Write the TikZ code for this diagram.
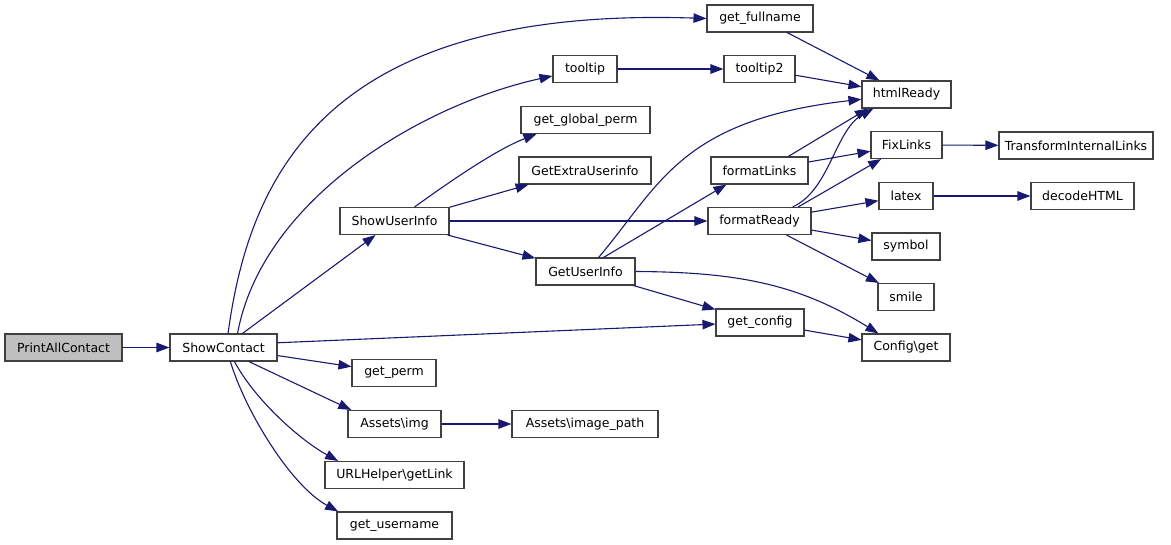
\documentclass[tikz,border=0pt]{standalone}
\usepackage{fontspec}
\setmainfont{DejaVu Sans}
\usetikzlibrary{arrows.meta}
\definecolor{edgec}{HTML}{191970}
\definecolor{bordc}{HTML}{404040}
\definecolor{startc}{HTML}{BFBFBF}
\begin{document}
\begin{tikzpicture}[x=1pt,y=-1pt,
  box/.style={draw=bordc, line width=1.1pt, fill=white, minimum height=27pt, inner sep=0pt,
    font=\fontsize{12.5}{15}\selectfont},
  edge/.style={draw=edgec, line width=1.1pt, -{Triangle[length=13pt,width=9.5pt]}}]
\useasboundingbox (0,0) rectangle (1171,544);
% nodes
\node[box, fill=startc, minimum width=117pt] (pac) at (63.5,347.5) {PrintAllContact};
\node[box, minimum width=107pt] (sc) at (223.5,347.5) {ShowContact};
\node[box, minimum width=109pt] (sui) at (394.5,221) {ShowUserInfo};
\node[box, minimum width=129pt] (ggp) at (585.5,120) {get\_global\_perm};
\node[box, minimum width=64pt] (tt) at (585,69) {tooltip};
\node[box, minimum width=132pt] (geu) at (585,170.5) {GetExtraUserinfo};
\node[box, minimum width=106pt] (gfn) at (760,18.5) {get\_fullname};
\node[box, minimum width=71pt] (tt2) at (759.5,69) {tooltip2};
\node[box, minimum width=89pt] (hr) at (906.5,94.5) {htmlReady};
\node[box, minimum width=71pt] (fl) at (906.5,145) {FixLinks};
\node[box, minimum width=97pt] (fL) at (759.5,170.5) {formatLinks};
\node[box, minimum width=54pt] (lx) at (906,196) {latex};
\node[box, minimum width=103pt] (fR) at (759.5,221) {formatReady};
\node[box, minimum width=68pt] (sym) at (906,246.5) {symbol};
\node[box, minimum width=56pt] (sm) at (906,297) {smile};
\node[box, minimum width=99pt] (gui) at (585.5,271.5) {GetUserInfo};
\node[box, minimum width=88pt] (gc) at (760,322.5) {get\_config};
\node[box, minimum width=88pt] (cg) at (906,347.5) {Config\textbackslash get};
\node[box, minimum width=154pt] (til) at (1076,145.5) {TransformInternalLinks};
\node[box, minimum width=103pt] (dh) at (1082.5,196) {decodeHTML};
\node[box, minimum width=84pt] (gp) at (394,373) {get\_perm};
\node[box, minimum width=93pt] (aimg) at (394.5,424) {Assets\textbackslash img};
\node[box, minimum width=146pt] (aip) at (585,424) {Assets\textbackslash image\_path};
\node[box, minimum width=139pt] (url) at (394.5,475) {URLHelper\textbackslash getLink};
\node[box, minimum width=115pt] (gu) at (394.5,525.5) {get\_username};
% edges
\draw[edge] (pac) -- (sc);
\draw[edge] (sc.72) .. controls (250,170) and (331,6) .. (gfn.west);
\draw[edge] (sc.45) .. controls (262,200) and (420,105) .. (tt.192);
\draw[edge] (sc) -- (sui);
\draw[edge] (sc.5) -- (gc.182);
\draw[edge] (sc) -- (gp);
\draw[edge] (sc.-29) -- (aimg.162);
\draw[edge] (sc.-52) .. controls (255,400) and (300,440) .. (url.166);
\draw[edge] (sc.-64) .. controls (245,410) and (290,485) .. (gu.166);
\draw[edge] (sui.35) .. controls (445,185) and (495,150) .. (ggp.196);
\draw[edge] (sui.14) -- (geu.194);
\draw[edge] (sui) -- (fR);
\draw[edge] (sui) -- (gui);
\draw[edge] (gui.47) .. controls (660,185) and (680,120) .. (hr.186);
\draw[edge] (gui.38) -- (fL.203);
\draw[edge] (gui) -- (gc);
\draw[edge] (gui.east) .. controls (740,272) and (800,285) .. (cg.153);
\draw[edge] (gc) -- (cg);
\draw[edge] (fL.26) -- (hr.200);
\draw[edge] (fL) -- (fl);
\draw[edge] (fR.23) .. controls (830,190) and (835,130) .. (hr.203);
\draw[edge] (fR.20) -- (fl.209);
\draw[edge] (fR) -- (lx);
\draw[edge] (fR) -- (sym);
\draw[edge] (fR) -- (sm);
\draw[edge] (tt) -- (tt2);
\draw[edge] (tt2) -- (hr);
\draw[edge] (gfn) -- (hr);
\draw[edge] (fl) -- (til);
\draw[edge] (lx) -- (dh);
\draw[edge] (aimg) -- (aip);
\end{tikzpicture}
\end{document}
